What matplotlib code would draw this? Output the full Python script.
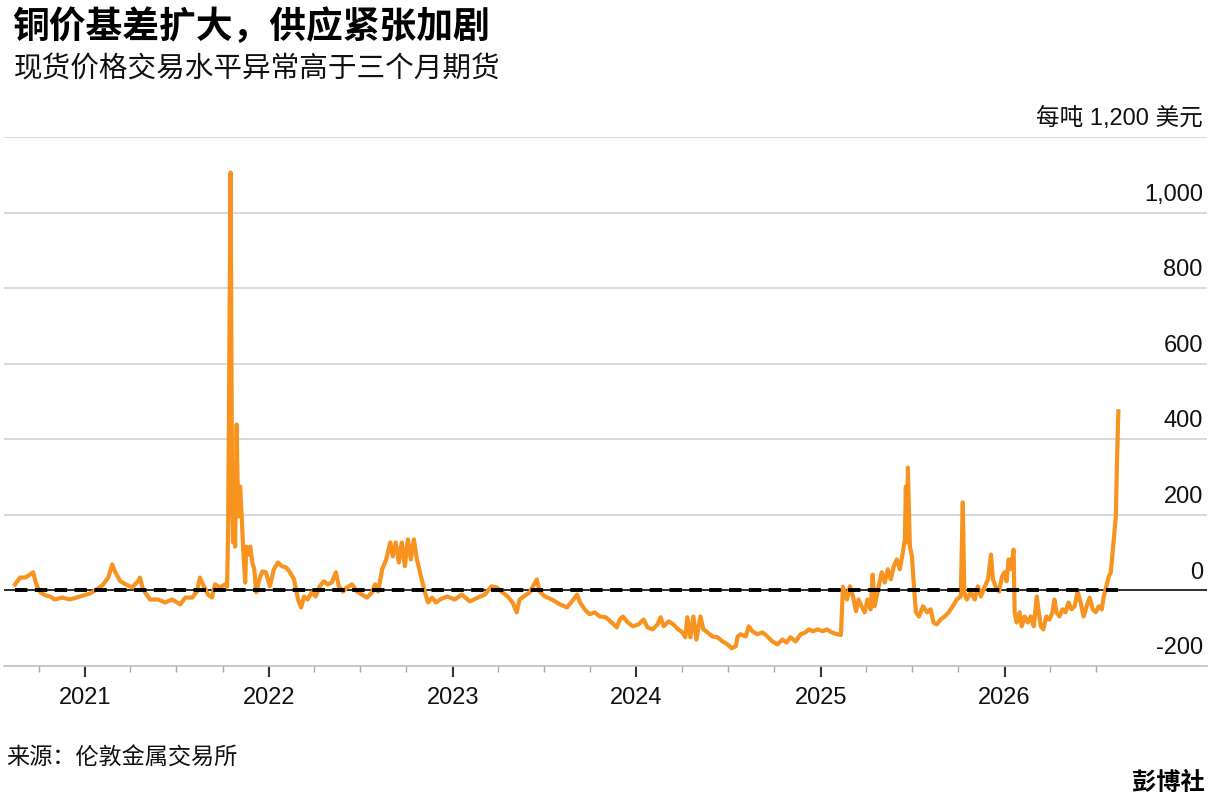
import matplotlib.pyplot as plt
import matplotlib.transforms as mtransforms
import pandas as pd

plt.rcParams['font.family'] = ['Liberation Sans', 'Noto Sans CJK SC', 'DejaVu Sans']

title = '铜价基差扩大，供应紧张加剧'
subtitle = '现货价格交易水平异常高于三个月期货'
source = '来源：伦敦金属交易所'
brand = '彭博社'
unit_label = '每吨 1,200 美元'

# LME 现货对三个月期货升水 (美元/吨)
dates = [
    '2020-08-15', '2020-08-25', '2020-09-04', '2020-09-14', '2020-09-20', '2020-09-26',
    '2020-10-04', '2020-10-14', '2020-10-23', '2020-11-02', '2020-11-16', '2020-12-02',
    '2020-12-22', '2021-01-11', '2021-01-25', '2021-02-06', '2021-02-16', '2021-02-24',
    '2021-03-02', '2021-03-12', '2021-03-23', '2021-04-04', '2021-04-16', '2021-04-20',
    '2021-04-26', '2021-05-10', '2021-05-26', '2021-06-09', '2021-06-23', '2021-07-09',
    '2021-07-19', '2021-08-02', '2021-08-11', '2021-08-17', '2021-08-23', '2021-09-02',
    '2021-09-10', '2021-09-16', '2021-09-26', '2021-10-06', '2021-10-10', '2021-10-12',
    '2021-10-17', '2021-10-20', '2021-10-22', '2021-10-24', '2021-10-26', '2021-10-29',
    '2021-11-01', '2021-11-05', '2021-11-08', '2021-11-11', '2021-11-15', '2021-11-17',
    '2021-11-21', '2021-11-25', '2021-11-29', '2021-12-03', '2021-12-07', '2021-12-13',
    '2021-12-19', '2021-12-26', '2022-01-03', '2022-01-11', '2022-01-19', '2022-01-27',
    '2022-02-04', '2022-02-12', '2022-02-20', '2022-02-28', '2022-03-06', '2022-03-12',
    '2022-03-19', '2022-03-27', '2022-04-04', '2022-04-12', '2022-04-20', '2022-04-28',
    '2022-05-06', '2022-05-14', '2022-05-20', '2022-05-28', '2022-06-05', '2022-06-15',
    '2022-06-25', '2022-07-05', '2022-07-15', '2022-07-25', '2022-07-31', '2022-08-06',
    '2022-08-14', '2022-08-22', '2022-08-30', '2022-09-04', '2022-09-10', '2022-09-16',
    '2022-09-22', '2022-09-28', '2022-10-04', '2022-10-10', '2022-10-16', '2022-10-22',
    '2022-10-30', '2022-11-07', '2022-11-13', '2022-11-21', '2022-11-29', '2022-12-07',
    '2022-12-21', '2023-01-05', '2023-01-19', '2023-02-04', '2023-02-20', '2023-03-06',
    '2023-03-19', '2023-03-29', '2023-04-08', '2023-04-20', '2023-04-30', '2023-05-08',
    '2023-05-14', '2023-05-22', '2023-06-03', '2023-06-17', '2023-06-23', '2023-07-03',
    '2023-07-17', '2023-08-02', '2023-08-16', '2023-08-26', '2023-09-05', '2023-09-11',
    '2023-09-20', '2023-09-30', '2023-10-10', '2023-10-20', '2023-11-01', '2023-11-13',
    '2023-11-23', '2023-11-29', '2023-12-05', '2023-12-15', '2023-12-25', '2024-01-05',
    '2024-01-15', '2024-01-23', '2024-02-02', '2024-02-12', '2024-02-18', '2024-02-24',
    '2024-03-05', '2024-03-14', '2024-03-24', '2024-04-01', '2024-04-07', '2024-04-11',
    '2024-04-17', '2024-04-23', '2024-04-29', '2024-05-07', '2024-05-13', '2024-05-21',
    '2024-05-31', '2024-06-10', '2024-06-20', '2024-06-30', '2024-07-08', '2024-07-16',
    '2024-07-20', '2024-07-26', '2024-08-05', '2024-08-11', '2024-08-18', '2024-08-28',
    '2024-09-07', '2024-09-17', '2024-09-27', '2024-10-07', '2024-10-17', '2024-10-25',
    '2024-11-02', '2024-11-12', '2024-11-22', '2024-12-02', '2024-12-08', '2024-12-16',
    '2024-12-26', '2025-01-05', '2025-01-13', '2025-01-21', '2025-01-31', '2025-02-10',
    '2025-02-14', '2025-02-22', '2025-02-28', '2025-03-06', '2025-03-12', '2025-03-17',
    '2025-03-23', '2025-03-29', '2025-04-04', '2025-04-10', '2025-04-14', '2025-04-18',
    '2025-04-26', '2025-05-02', '2025-05-08', '2025-05-14', '2025-05-20', '2025-05-26',
    '2025-06-01', '2025-06-07', '2025-06-13', '2025-06-17', '2025-06-19', '2025-06-21',
    '2025-06-23', '2025-06-25', '2025-06-27', '2025-07-01', '2025-07-05', '2025-07-09',
    '2025-07-15', '2025-07-23', '2025-07-31', '2025-08-07', '2025-08-13', '2025-08-19',
    '2025-08-27', '2025-09-04', '2025-09-12', '2025-09-20', '2025-09-28', '2025-10-06',
    '2025-10-10', '2025-10-13', '2025-10-18', '2025-10-26', '2025-11-03', '2025-11-09',
    '2025-11-15', '2025-11-23', '2025-11-29', '2025-12-05', '2025-12-09', '2025-12-15',
    '2025-12-21', '2025-12-27', '2026-01-01', '2026-01-05', '2026-01-09', '2026-01-13',
    '2026-01-19', '2026-01-21', '2026-01-25', '2026-01-31', '2026-02-04', '2026-02-10',
    '2026-02-16', '2026-02-22', '2026-02-28', '2026-03-06', '2026-03-10', '2026-03-14',
    '2026-03-19', '2026-03-25', '2026-03-31', '2026-04-06', '2026-04-10', '2026-04-14',
    '2026-04-20', '2026-04-26', '2026-05-02', '2026-05-08', '2026-05-14', '2026-05-20',
    '2026-05-26', '2026-06-01', '2026-06-07', '2026-06-13', '2026-06-19', '2026-06-25',
    '2026-07-01', '2026-07-07', '2026-07-13', '2026-07-17', '2026-07-23', '2026-07-27',
    '2026-07-31', '2026-08-04', '2026-08-08', '2026-08-10', '2026-08-12', '2026-08-15',
]
spread = [
    16, 34, 34, 42, 48, 16,
    -5, -13, -16, -24, -19, -24,
    -16, -8, 3, 16, 34, 69,
    48, 24, 16, 8, 24, 34,
    3, -24, -24, -32, -24, -37,
    -19, -19, -3, 34, 16, -11,
    -19, 16, 8, 16, 10, 153,
    1106, 240, 127, 259, 116, 439,
    196, 275, 196, 108, 21, 116,
    95, 116, 74, 56, -5, 29,
    50, 48, 11, 56, 74, 64,
    61, 48, 29, -24, -45, -16,
    -24, -5, -16, 11, 24, 16,
    21, 48, 11, -3, 8, 16,
    -3, -11, -19, -5, 16, -3,
    56, 82, 127, 90, 127, 74,
    127, 64, 135, 82, 135, 82,
    37, -5, -32, -19, -32, -24,
    -16, -24, -11, -29, -19, -11,
    11, 8, -3, -16, -32, -58,
    -24, -16, -5, 29, -3, -16,
    -24, -37, -45, -29, -11, -32,
    -50, -63, -58, -69, -71, -85,
    -98, -77, -69, -85, -95, -90,
    -77, -98, -103, -90, -71, -95,
    -82, -90, -103, -111, -124, -71,
    -124, -69, -130, -69, -103, -111,
    -122, -124, -135, -143, -153, -148,
    -122, -116, -122, -95, -108, -116,
    -111, -122, -135, -143, -130, -138,
    -124, -135, -116, -111, -103, -108,
    -103, -108, -103, -110, -115, -118,
    10, -24, 11, -16, -55, -24,
    -42, -58, -24, -50, 42, -42,
    11, 48, 21, 56, 29, 64,
    82, 56, 101, 135, 275, 127,
    325, 214, 116, 90, 11, -58,
    -69, -42, -58, -50, -85, -90,
    -77, -69, -58, -42, -24, -16,
    233, -5, -24, -5, -24, 11,
    -16, 11, 29, 95, 29, 8,
    -3, 37, 48, 24, 82, 56,
    108, -58, -85, -58, -95, -69,
    -85, -69, -95, -16, -58, -95,
    -103, -69, -77, -58, -24, -58,
    -69, -50, -58, -32, -50, -42,
    -3, -32, -69, -42, -19, -50,
    -58, -42, -50, -16, 16, 37,
    48, 108, 169, 196, 328, 474,
]

y_ticks = [-200, 0, 200, 400, 600, 800, 1000, 1200]
y_labels = ['-200', '0', '200', '400', '600', '800', '1,000', unit_label]
year_ticks = ['2021-01-01', '2022-01-01', '2023-01-01', '2024-01-01', '2025-01-01', '2026-01-01']
year_labels = ['2021', '2022', '2023', '2024', '2025', '2026']

x = pd.to_datetime(dates)

fig = plt.figure(figsize=(12.16, 8.05), dpi=100)
ax = fig.add_axes([4 / 1216, 139 / 805, 1203 / 1216, 529 / 805])

ax.plot(x, spread, color='#f7931e', lw=3.0, solid_joinstyle='round', zorder=3)
ax.axhline(0, color='black', lw=1.1, zorder=2)
ax.plot([x[0], x[-1]], [0, 0], color='black', lw=2.8, dashes=(3.2, 1.9), zorder=4)

ax.set_xlim(pd.Timestamp('2020-07-24'), pd.Timestamp('2027-02-07'))
ax.set_ylim(-200, 1200)

# 网格线和右侧标签（标签放在线上方）
ax.set_yticks(y_ticks)
ax.yaxis.grid(True, color='#cfcfcf', lw=1.1)
ax.tick_params(axis='y', length=0, labelleft=False, labelright=False)
trans = mtransforms.blended_transform_factory(ax.transAxes, ax.transData)
for v, lab in zip(y_ticks, y_labels):
    ax.annotate(lab, (1, v), xycoords=trans, xytext=(-3, 8.5), textcoords='offset points',
                ha='right', va='baseline', fontsize=17, color='#111111')

ax.set_xticks(pd.to_datetime(year_ticks))
ax.set_xticklabels(year_labels)
quarters = pd.date_range('2020-10-01', '2026-07-01', freq='QS')
ax.set_xticks(quarters, minor=True)
ax.tick_params(axis='x', which='major', length=8, width=1.5, color='#333333',
               labelsize=17, pad=7, labelcolor='#111111')
ax.tick_params(axis='x', which='minor', length=4.5, width=1, color='#aaaaaa')

for s in ['top', 'left', 'right']:
    ax.spines[s].set_visible(False)
ax.spines['bottom'].set_color('#c4c4c4')
ax.spines['bottom'].set_linewidth(1.2)

fig.text(12 / 1216, 1 - 28 / 805, title, fontsize=26.5, fontweight='bold',
         family=['Noto Sans CJK SC'], va='center', ha='left')
fig.text(14 / 1216, 1 - 70 / 805, subtitle, fontsize=20.6, family=['Noto Sans CJK SC'],
         va='center', ha='left', color='#111111')
fig.text(6 / 1216, 1 - 758 / 805, source, fontsize=16.7, family=['Noto Sans CJK SC'],
         va='center', ha='left', color='#111111')
fig.text(1205 / 1216, 1 - 783 / 805, brand, fontsize=17.5, fontweight='bold',
         family=['Noto Sans CJK SC'], va='center', ha='right')

fig.savefig('out.png', dpi=100, facecolor='white')
